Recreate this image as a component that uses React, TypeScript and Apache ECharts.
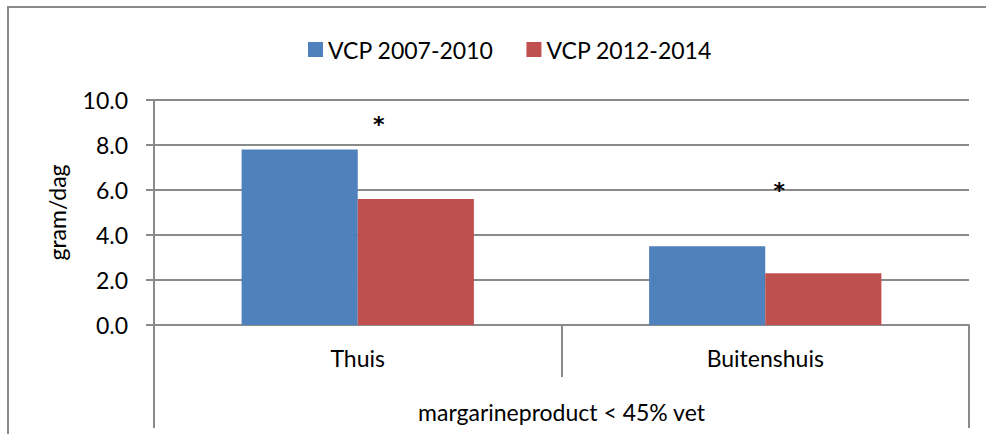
import React, { useEffect, useRef } from 'react';
import * as echarts from 'echarts';

const categories = ['Thuis', 'Buitenshuis'];
const groupLabels = ['margarineproduct < 45% vet'];
const seriesNames = ['VCP 2007-2010', 'VCP 2012-2014'];
const vcp20072010 = [7.8, 3.5];
const vcp20122014 = [5.6, 2.3];
const yMin = 0;
const yMax = 10;
const yInterval = 2;
const yAxisName = 'gram/dag';
const significanceCats = ['Thuis', 'Buitenshuis'];
const significanceY = [9.1, 6.15];

const FONT = 'Lato';
const GRAY = '#8a8a8a';

export default function App() {
  const ref = useRef<HTMLDivElement>(null);
  useEffect(() => {
    document.body.style.margin = '0';
    document.body.style.overflow = 'hidden';
    document.documentElement.style.overflow = 'hidden';
    const chart = echarts.init(ref.current!, null, { renderer: 'svg' });
    chart.setOption({
      animation: false,
      backgroundColor: '#fff',
      textStyle: { fontFamily: FONT, color: '#000' },
      graphic: [
        {
          type: 'line',
          shape: { x1: 7, y1: 7, x2: 986, y2: 7 },
          style: { stroke: GRAY, lineWidth: 2 },
          silent: true,
        },
        {
          type: 'line',
          shape: { x1: 8, y1: 6, x2: 8, y2: 434 },
          style: { stroke: GRAY, lineWidth: 2 },
          silent: true,
        },
      ],
      legend: {
        left: 303,
        top: 33,
        itemWidth: 15,
        itemHeight: 15,
        itemGap: 33,
        icon: 'rect',
        textStyle: { fontFamily: FONT, fontSize: 23, color: '#000' },
        data: seriesNames,
      },
      grid: { left: 154, right: 17, top: 100, bottom: 109, containLabel: false },
      xAxis: [
        {
          type: 'category',
          data: categories,
          position: 'bottom',
          axisLine: { show: true, lineStyle: { color: GRAY, width: 2 } },
          axisTick: { show: true, alignWithLabel: false, length: 52, lineStyle: { color: GRAY, width: 2 } },
          axisLabel: { margin: 21, fontFamily: FONT, fontSize: 23, color: '#000' },
          splitLine: { show: false },
        },
        {
          type: 'category',
          data: groupLabels,
          position: 'bottom',
          axisLine: { show: false },
          axisTick: { show: true, alignWithLabel: false, length: 103, lineStyle: { color: GRAY, width: 2 } },
          axisLabel: { margin: 75, fontFamily: FONT, fontSize: 23, color: '#000' },
          splitLine: { show: false },
        },
      ],
      yAxis: {
        type: 'value',
        min: yMin,
        max: yMax,
        interval: yInterval,
        name: yAxisName,
        nameLocation: 'middle',
        nameRotate: 90,
        nameGap: 86,
        nameTextStyle: { fontFamily: FONT, fontSize: 23, color: '#000' },
        axisLine: { show: true, lineStyle: { color: GRAY, width: 2 } },
        axisTick: { show: true, length: 8, lineStyle: { color: GRAY, width: 2 } },
        axisLabel: {
          margin: 26,
          fontFamily: FONT,
          fontSize: 23,
          color: '#000',
          formatter: (v: number) => v.toFixed(1),
        },
        splitLine: { show: true, lineStyle: { color: GRAY, width: 2 } },
      },
      series: [
        {
          name: seriesNames[0],
          type: 'bar',
          data: vcp20072010,
          barGap: '0%',
          barCategoryGap: '43%',
          itemStyle: { color: '#4F81BD' },
        },
        {
          name: seriesNames[1],
          type: 'bar',
          data: vcp20122014,
          barGap: '0%',
          barCategoryGap: '43%',
          itemStyle: { color: '#C0504D' },
          markPoint: {
            symbol: 'rect',
            symbolSize: 1,
            itemStyle: { color: 'rgba(0,0,0,0)' },
            label: {
              show: true,
              position: 'inside',
              formatter: '*',
              fontFamily: 'DejaVu Sans',
              fontSize: 22,
              fontWeight: 'bold',
              color: '#000',
            },
            data: significanceCats.map((c, i) => ({
              coord: [c, significanceY[i]],
              label: { offset: [i === 0 ? -37 : -44, 4] },
            })),
          },
        },
      ],
    });
    return () => chart.dispose();
  }, []);
  return <div ref={ref} style={{ width: 986, height: 434, display: 'block' }} />;
}
